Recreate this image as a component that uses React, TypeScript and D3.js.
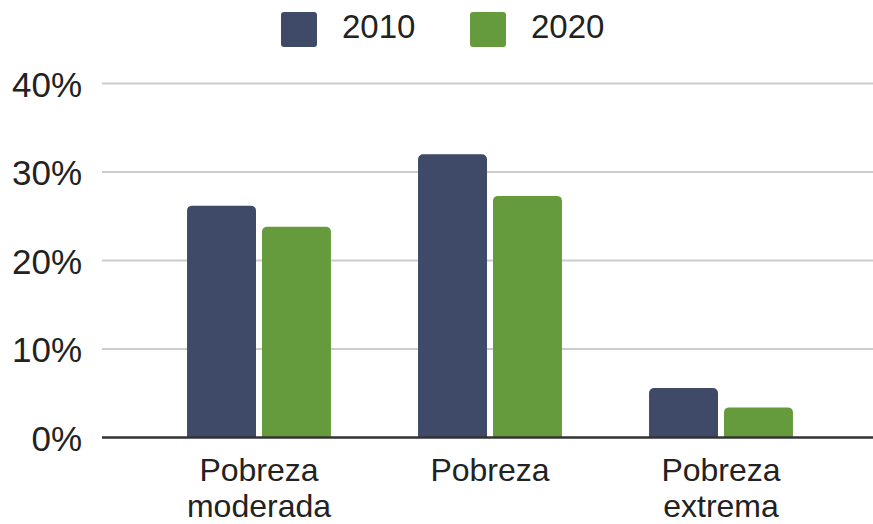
import React from 'react';
import * as d3 from 'd3';

const categories = ['Pobreza moderada', 'Pobreza', 'Pobreza extrema'];
const categoryLines = [['Pobreza', 'moderada'], ['Pobreza'], ['Pobreza', 'extrema']];
const series = ['2010', '2020'];
const values2010 = [26.2, 32.0, 5.6];
const values2020 = [23.8, 27.3, 3.4];
const yTicks = [0, 10, 20, 30, 40];

const colors = ['#3e4a68', '#669b3d'];
const width = 873;
const height = 524;
const font = '"Liberation Sans", Arial, sans-serif';

// path for a bar with rounded top corners only
function barPath(x: number, y: number, w: number, h: number, r: number) {
  const rr = Math.min(r, h, w / 2);
  const p = d3.path();
  p.moveTo(x, y + h);
  p.lineTo(x, y + rr);
  p.arcTo(x, y, x + rr, y, rr);
  p.lineTo(x + w - rr, y);
  p.arcTo(x + w, y, x + w, y + rr, rr);
  p.lineTo(x + w, y + h);
  p.closePath();
  return p.toString();
}

export default function App() {
  const y = d3.scaleLinear().domain([0, 40]).range([437.5, 83.5]);
  const x0 = d3.scaleBand<string>()
    .domain(categories)
    .range([143.5, 836.5])
    .paddingInner(0.377)
    .paddingOuter(0.1885);
  const x1 = d3.scaleBand<string>()
    .domain(series)
    .range([0, x0.bandwidth()])
    .paddingInner(0.08);

  const data = [values2010, values2020];

  return (
    <svg width={width} height={height} style={{ position: 'absolute', left: 0, top: 0, background: '#fff' }}>
      {/* legend */}
      {series.map((s, i) => {
        const lx = i === 0 ? 281 : 470;
        return (
          <g key={s}>
            <rect x={lx} y={12} width={36} height={35} rx={3} fill={colors[i]} />
            <text x={lx + 61} y={38} fontFamily={font} fontSize={33} fill="#222">{s}</text>
          </g>
        );
      })}

      {/* gridlines and y labels */}
      {yTicks.map(t => (
        <g key={t}>
          {t !== 0 && (
            <line x1={102} x2={width} y1={y(t)} y2={y(t)} stroke="#cccccc" strokeWidth={2} />
          )}
          <text x={82} y={y(t) + 13} textAnchor="end" fontFamily={font} fontSize={35} fill="#222">
            {t}%
          </text>
        </g>
      ))}

      {/* bars */}
      {categories.map((c, ci) => (
        <g key={c} transform={`translate(${x0(c)},0)`}>
          {series.map((s, si) => {
            const v = data[si][ci];
            return (
              <path
                key={s}
                d={barPath(x1(s)!, y(v), x1.bandwidth(), y(0) - y(v), 5)}
                fill={colors[si]}
              />
            );
          })}
        </g>
      ))}

      {/* baseline */}
      <line x1={102} x2={width} y1={y(0)} y2={y(0)} stroke="#333" strokeWidth={2.5} />

      {/* x labels */}
      {categories.map((c, ci) => (
        <text
          key={c}
          x={x0(c)! + x0.bandwidth() / 2}
          y={481}
          textAnchor="middle"
          fontFamily={font}
          fontSize={32}
          fill="#222"
        >
          {categoryLines[ci].map((line, li) => (
            <tspan key={li} x={x0(c)! + x0.bandwidth() / 2} dy={li === 0 ? 0 : 36}>{line}</tspan>
          ))}
        </text>
      ))}
    </svg>
  );
}
